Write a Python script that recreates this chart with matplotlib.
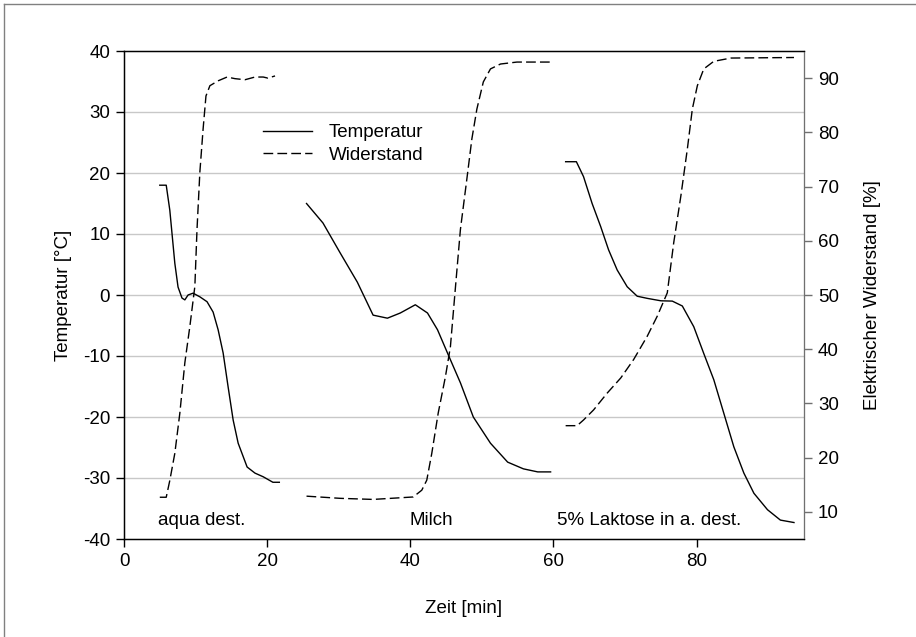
import matplotlib
matplotlib.use("Agg")
import matplotlib.pyplot as plt
from matplotlib.lines import Line2D

plt.rcParams['font.family'] = ['Liberation Sans', 'DejaVu Sans']
plt.rcParams['font.size'] = 13.5
plt.rcParams['axes.unicode_minus'] = False

# aqua dest.
t1_time = [5.0, 5.9, 6.4, 7.1, 7.55, 8.1, 8.5, 8.95, 9.65, 10.6, 11.6, 12.45, 13.15,
           13.85, 14.55, 15.25, 15.95, 17.2, 18.3, 19.45, 20.8, 21.7]
t1_temp = [18.0, 18.0, 13.9, 5.2, 1.3, -0.5, -0.8, 0.0, 0.3, -0.3, -1.1, -2.8, -5.7,
           -9.5, -15.1, -20.5, -24.3, -28.2, -29.2, -29.8, -30.7, -30.7]
r1_time = [5.0, 5.9, 6.4, 7.1, 7.8, 8.5, 9.2, 9.9, 10.2, 10.6, 11.05, 11.45, 12.0,
           13.15, 14.4, 15.5, 16.9, 18.3, 19.45, 20.1, 21.1]
r1_res = [12.7, 12.7, 15.8, 20.8, 28.2, 37.5, 44.2, 51.6, 62.1, 72.7, 80.6, 86.7, 88.6,
          89.5, 90.2, 89.9, 89.7, 90.2, 90.2, 90.0, 90.4]

# Milch
t2_time = [25.5, 27.8, 30.2, 32.6, 34.8, 36.8, 38.6, 40.7, 42.4, 43.8, 45.3, 47.0,
           48.8, 51.2, 53.6, 55.8, 57.8, 59.6]
t2_temp = [15.0, 11.8, 6.9, 2.1, -3.3, -3.8, -2.95, -1.6, -2.95, -5.7, -9.8, -14.4,
           -20.0, -24.3, -27.4, -28.5, -29.0, -29.0]
r2_time = [25.5, 30.2, 34.8, 40.4, 41.6, 42.3, 43.0, 43.9, 44.9, 45.6, 46.4, 47.0,
           47.9, 48.6, 49.3, 50.2, 51.2, 52.6, 54.9, 59.6]
r2_res = [12.9, 12.5, 12.3, 12.75, 14.0, 15.85, 20.8, 28.25, 34.9, 40.45, 52.9, 62.1,
          71.4, 78.8, 84.3, 89.3, 91.7, 92.6, 92.96, 92.96]

# 5% Laktose in a. dest.
t3_time = [61.7, 63.2, 64.2, 65.4, 66.6, 67.7, 68.9, 70.3, 71.7, 73.1, 75.0, 76.6,
           78.0, 79.6, 81.0, 82.4, 83.8, 85.2, 86.6, 88.0, 89.9, 91.7, 93.6]
t3_temp = [21.85, 21.85, 19.4, 15.0, 11.2, 7.4, 4.1, 1.35, -0.2, -0.55, -0.95, -1.0,
           -1.8, -5.2, -9.6, -13.9, -19.4, -24.9, -29.2, -32.5, -35.2, -36.9, -37.3]
r3_time = [61.7, 63.3, 64.2, 65.6, 67.5, 69.4, 71.2, 73.1, 74.5, 75.9, 76.8, 77.8,
           78.7, 79.4, 80.1, 81.0, 82.4, 84.8, 93.6]
r3_res = [25.9, 25.9, 26.95, 28.8, 31.9, 34.7, 38.1, 42.4, 46.1, 50.4, 59.65, 68.3,
          76.9, 84.3, 88.6, 91.7, 93.1, 93.7, 93.8]

labels = ['aqua dest.', 'Milch', '5% Laktose in a. dest.']
label_x = [10.9, 42.9, 73.4]

fig = plt.figure(figsize=(9.16, 6.37), dpi=100)
ax = fig.add_axes([124 / 916, 1 - 539 / 637, 680 / 916, 488 / 637])
ax2 = ax.twinx()

dash = (7, 3)
for tx, ty in [(t1_time, t1_temp), (t2_time, t2_temp), (t3_time, t3_temp)]:
    ax.plot(tx, ty, color='black', lw=1.0)
for rx, ry in [(r1_time, r1_res), (r2_time, r2_res), (r3_time, r3_res)]:
    ax2.plot(rx, ry, color='black', lw=1.0, dashes=dash)

ax.set_xlim(0, 95)
ax.set_ylim(-40, 40)
ax2.set_ylim(5, 95)
ax.set_xticks([0, 20, 40, 60, 80])
ax.set_yticks(range(-40, 41, 10))
ax2.set_yticks(range(10, 91, 10))

# horizontale Gitterlinien
for yv in range(-30, 31, 10):
    ax.axhline(yv, color='#c8c8c8', lw=1.0, zorder=0)

ax.tick_params(direction='out', length=6, width=1, pad=4)
ax2.tick_params(direction='out', length=6, width=1, pad=4, color='#707070')
ax2.spines['right'].set_color('#707070')
for s in ['left', 'top', 'bottom']:
    ax.spines[s].set_linewidth(1.0)

ax.set_xlabel('Zeit [min]', labelpad=22)
ax.set_ylabel('Temperatur [°C]', labelpad=8)
ax2.set_ylabel('Elektrischer Widerstand [%]', labelpad=18)

for lx, txt in zip(label_x, labels):
    ax.text(lx, -37, txt, ha='center', va='center')

handles = [Line2D([], [], color='black', lw=1.0),
           Line2D([], [], color='black', lw=1.0, dashes=dash)]
ax2.legend(handles, ['Temperatur', 'Widerstand'], frameon=False, loc='upper left',
           bbox_to_anchor=(0.18, 0.885), handlelength=2.6, handletextpad=0.9,
           labelspacing=0.3)

# Rahmen oben und links
fig.add_artist(Line2D([4 / 916, 1], [1 - 4 / 637, 1 - 4 / 637], color='#808080', lw=1.0))
fig.add_artist(Line2D([4 / 916, 4 / 916], [0, 1 - 4 / 637], color='#808080', lw=1.0))

fig.savefig('out.png', dpi=100)
